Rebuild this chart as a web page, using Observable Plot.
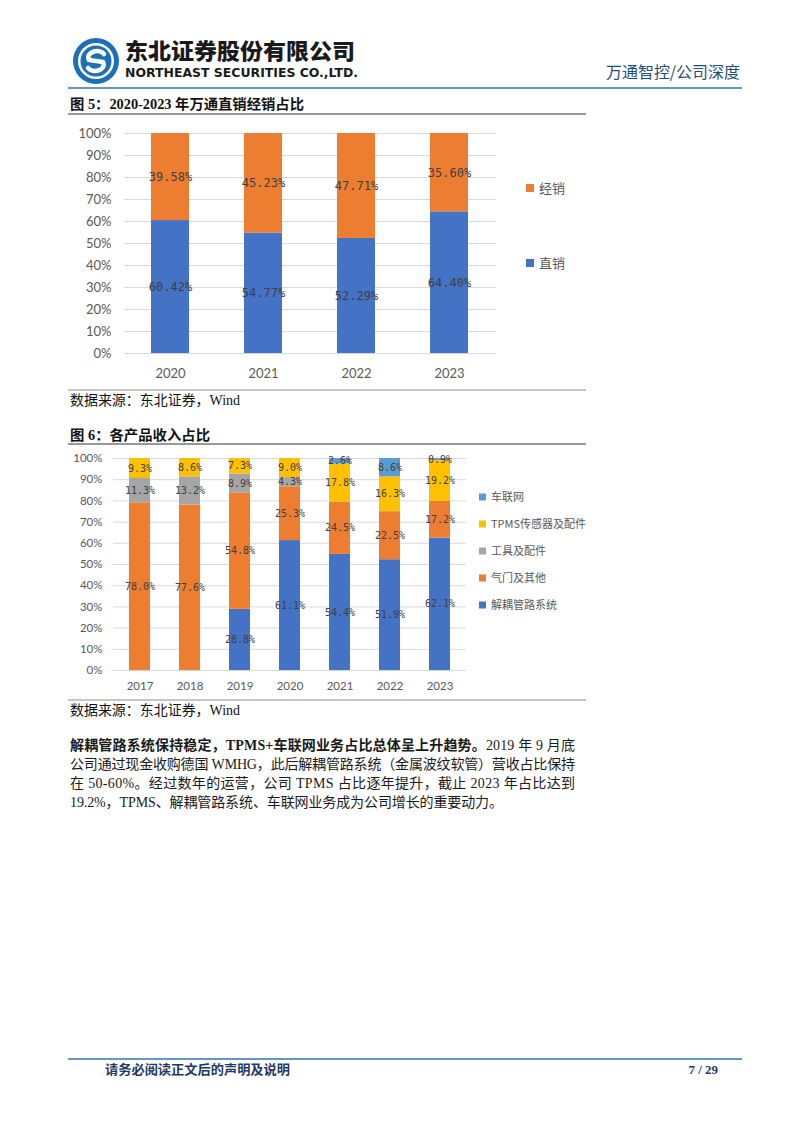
<!DOCTYPE html>
<html><head><meta charset="utf-8">
<script src="https://cdn.jsdelivr.net/npm/d3@7"></script>
<script src="https://cdn.jsdelivr.net/npm/@observablehq/plot@0.6"></script>
<style>
html,body{margin:0;padding:0;background:#fff;}
#page{position:relative;width:802px;height:1133px;overflow:hidden;background:#fff;}
#page svg{position:absolute;}
</style></head><body><div id="page"></div>
<script>
// ---------- data: figure 5 ----------
const years1 = ["2020", "2021", "2022", "2023"];
const series1 = ["直销", "经销"];
const direct = [60.42, 54.77, 52.29, 64.40];
const distrib = [39.58, 45.23, 47.71, 35.60];
const colors1 = ["#4472C4", "#ED7D31"];
const yTicks1 = [0, 0.1, 0.2, 0.3, 0.4, 0.5, 0.6, 0.7, 0.8, 0.9, 1];

// ---------- data: figure 6 ----------
const years2 = ["2017", "2018", "2019", "2020", "2021", "2022", "2023"];
const series2 = ["解耦管路系统", "气门及其他", "工具及配件", "TPMS传感器及配件", "车联网"];
const decoupling = [null, null, 28.8, 61.1, 54.4, 51.9, 62.1];
const valve = [78.0, 77.6, 54.8, 25.3, 24.5, 22.5, 17.2];
const tools = [11.3, 13.2, 8.9, 4.3, null, null, null];
const tpms = [9.3, 8.6, 7.3, 9.0, 17.8, 16.3, 19.2];
const iov = [null, null, null, null, 2.6, 8.6, 0.9];
const colors2 = ["#4472C4", "#ED7D31", "#A5A5A5", "#FFC000", "#5B9BD5"];
const yTicks2 = [0, 0.1, 0.2, 0.3, 0.4, 0.5, 0.6, 0.7, 0.8, 0.9, 1];

// ---------- page texts ----------
const companyCN = "东北证券股份有限公司";
const companyEN = "NORTHEAST SECURITIES CO.,LTD.";
const reportTag = "万通智控/公司深度";
const title1 = "图 5：2020-2023 年万通直销经销占比";
const title2 = "图 6：各产品收入占比";
const sourceText = "数据来源：东北证券，Wind";
const para = [
  [["解耦管路系统保持稳定，TPMS+车联网业务占比总体呈上升趋势。", true], ["2019 年 9 月底", false]],
  [["公司通过现金收购德国 WMHG，此后解耦管路系统（金属波纹软管）营收占比保持", false]],
  [["在 50-60%。经过数年的运营，公司 TPMS 占比逐年提升，截止 2023 年占比达到", false]],
  [["19.2%，TPMS、解耦管路系统、车联网业务成为公司增长的重要动力。", false]]
];
const footerText = "请务必阅读正文后的声明及说明";
const pageNo = "7 / 29";

const page = document.getElementById("page");

// ---------- overlay (header, titles, text, legends) ----------
const W = 802, H = 1133;
const svg = d3.create("svg").attr("width", W).attr("height", H)
  .style("left", "0px").style("top", "0px");
const serif = "'Liberation Serif', 'Noto Sans CJK SC', serif";
const cjk = "'Noto Sans CJK SC', sans-serif";

// logo
const logo = svg.append("g").attr("transform", "translate(96,61)");
logo.append("circle").attr("r", 23).attr("fill", "#1D6FB8");
logo.append("circle").attr("r", 18).attr("fill", "#fff");
logo.append("circle").attr("r", 15.5).attr("fill", "#1D6FB8");
logo.append("path").attr("d", "M8,-7 C3,-13 -11,-9 -7,-1 L7,1 C11,9 -3,13 -8,7")
  .attr("fill", "none").attr("stroke", "#fff").attr("stroke-width", 4.5).attr("stroke-linecap", "round");

svg.append("text").attr("x", 125).attr("y", 59).attr("textLength", 230).attr("lengthAdjust", "spacingAndGlyphs")
  .attr("font-family", cjk).attr("font-weight", 900).attr("font-size", 22).attr("fill", "#1a1a1a").text(companyCN);
svg.append("text").attr("x", 125).attr("y", 77).attr("textLength", 233).attr("lengthAdjust", "spacingAndGlyphs")
  .attr("font-family", "'DejaVu Sans', sans-serif").attr("font-weight", 700).attr("font-size", 12).attr("fill", "#1a1a1a").text(companyEN);
svg.append("text").attr("x", 740).attr("y", 78).attr("text-anchor", "end").attr("textLength", 134).attr("lengthAdjust", "spacingAndGlyphs")
  .attr("font-family", cjk).attr("font-size", 16).attr("fill", "#1F4E79").text(reportTag);
svg.append("line").attr("x1", 68).attr("x2", 742).attr("y1", 88).attr("y2", 88).attr("stroke", "#2E75B6").attr("stroke-width", 1.5);

// chart titles and rules
function titleBlock(t, yc, len, yRule, yBottom, ySrc) {
  svg.append("text").attr("x", 70).attr("y", yc + 5).attr("textLength", len).attr("lengthAdjust", "spacingAndGlyphs")
    .attr("font-family", serif).attr("font-weight", 700).attr("font-size", 14).attr("fill", "#111").text(t);
  svg.append("line").attr("x1", 68).attr("x2", 586).attr("y1", yRule).attr("y2", yRule).attr("stroke", "#333").attr("stroke-width", 1.2);
  svg.append("line").attr("x1", 68).attr("x2", 586).attr("y1", yBottom).attr("y2", yBottom).attr("stroke", "#8c8c8c").attr("stroke-width", 1);
  svg.append("text").attr("x", 70).attr("y", ySrc + 5).attr("textLength", 170).attr("lengthAdjust", "spacingAndGlyphs")
    .attr("font-family", serif).attr("font-size", 14).attr("fill", "#111").text(sourceText);
}
titleBlock(title1, 104, 234, 114, 390, 400);
titleBlock(title2, 435, 140, 444, 700, 710);

// legends
function legend(names, colors, x, ys, size, fs) {
  names.forEach((n, i) => {
    svg.append("rect").attr("x", x).attr("y", ys[i] - size / 2).attr("width", size).attr("height", size).attr("fill", colors[i]);
    svg.append("text").attr("x", x + size + 5).attr("y", ys[i]).attr("dy", "0.36em")
      .attr("font-family", cjk).attr("font-size", fs).attr("fill", "#595959").text(n);
  });
}
legend(series1, colors1, 526, [263, 188], 8, 13);
legend(series2, colors2, 479, [605, 578, 551, 524, 497], 7, 11);

// paragraph
const paraY = [745, 764, 783, 802];
const paraLen = [505, 505, 505, 433];
para.forEach((parts, i) => {
  const t = svg.append("text").attr("x", 70).attr("y", paraY[i] + 5)
    .attr("textLength", paraLen[i]).attr("lengthAdjust", "spacing")
    .attr("font-family", serif).attr("font-size", 14).attr("fill", "#1a1a1a");
  parts.forEach(([s, b]) => t.append("tspan").attr("font-weight", b ? 700 : 400).text(s));
});

// footer
svg.append("line").attr("x1", 68).attr("x2", 742).attr("y1", 1059).attr("y2", 1059).attr("stroke", "#2E75B6").attr("stroke-width", 1.5);
svg.append("text").attr("x", 105).attr("y", 1074).attr("textLength", 185).attr("lengthAdjust", "spacingAndGlyphs")
  .attr("font-family", serif).attr("font-weight", 700).attr("font-size", 13).attr("fill", "#1F3864").text(footerText);
svg.append("text").attr("x", 718).attr("y", 1074).attr("text-anchor", "end")
  .attr("font-family", serif).attr("font-weight", 700).attr("font-size", 13).attr("fill", "#1F3864").text(pageNo);

page.appendChild(svg.node());

// ---------- chart 1 ----------
const data1 = [];
years1.forEach((y, i) => {
  data1.push({year: y, series: series1[0], value: direct[i]});
  data1.push({year: y, series: series1[1], value: distrib[i]});
});
const chart1 = Plot.plot({
  width: 460, height: 270,
  marginLeft: 64, marginRight: 24, marginTop: 13, marginBottom: 37,
  style: {fontFamily: "Lato, 'Open Sans', sans-serif", fontSize: "13px", color: "#595959", background: "transparent", overflow: "visible"},
  x: {domain: years1, paddingInner: 0.59, paddingOuter: 0.295, label: null},
  y: {domain: [0, 1], label: null},
  color: {domain: series1, range: colors1},
  marks: [
    Plot.gridY(yTicks1, {stroke: "#D9D9D9", strokeOpacity: 1}),
    Plot.axisY(yTicks1, {tickFormat: d3.format(".0%"), tickSize: 0, tickPadding: 13, label: null, fontSize: 13}),
    Plot.axisX({tickSize: 0, tickPadding: 15, label: null, fontSize: 13}),
    Plot.barY(data1, Plot.stackY({x: "year", y: "value", fill: "series", offset: "normalize", order: series1})),
    Plot.text(data1, Plot.stackY({x: "year", y: "value", z: "series", offset: "normalize", order: series1,
      text: d => d.value.toFixed(2) + "%", fill: "#404040", fontFamily: "'DejaVu Sans Mono', monospace", fontSize: 12}))
  ]
});
chart1.style.position = "absolute";
chart1.style.left = "60px";
chart1.style.top = "120px";
page.appendChild(chart1);

// ---------- chart 2 ----------
const cols2 = [decoupling, valve, tools, tpms, iov];
const data2 = [];
years2.forEach((y, i) => {
  series2.forEach((s, k) => {
    const v = cols2[k][i];
    if (v != null) data2.push({year: y, series: s, value: v});
  });
});
const chart2 = Plot.plot({
  width: 420, height: 252,
  marginLeft: 53, marginRight: 14, marginTop: 10, marginBottom: 30,
  style: {fontFamily: "Lato, 'Open Sans', sans-serif", fontSize: "11px", color: "#595959", background: "transparent", overflow: "visible"},
  x: {domain: years2, paddingInner: 0.587, paddingOuter: 0.29, label: null},
  y: {domain: [0, 1], label: null},
  color: {domain: series2, range: colors2},
  marks: [
    Plot.gridY(yTicks2, {stroke: "#D9D9D9", strokeOpacity: 1}),
    Plot.axisY(yTicks2, {tickFormat: d3.format(".0%"), tickSize: 0, tickPadding: 11, label: null, fontSize: 11.5}),
    Plot.axisX({tickSize: 0, tickPadding: 11, label: null, fontSize: 11.5}),
    Plot.barY(data2, Plot.stackY({x: "year", y: "value", fill: "series", offset: "normalize", order: series2})),
    Plot.text(data2, Plot.stackY({x: "year", y: "value", z: "series", offset: "normalize", order: series2,
      text: d => d.value.toFixed(1) + "%", fill: "#404040", fontFamily: "'DejaVu Sans Mono', monospace", fontSize: 10}))
  ]
});
chart2.style.position = "absolute";
chart2.style.left = "60px";
chart2.style.top = "448px";
page.appendChild(chart2);
</script></body></html>
